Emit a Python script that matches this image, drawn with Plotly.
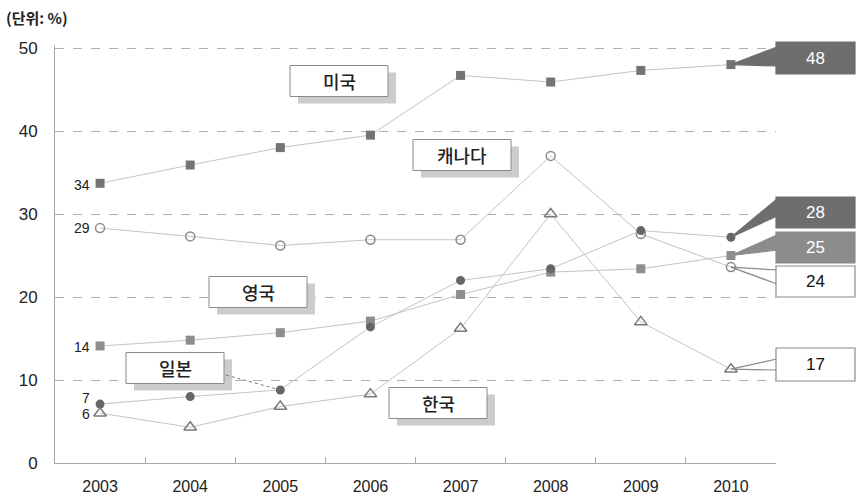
import plotly.graph_objects as go

# ---------------- data ----------------
years = ["2003", "2004", "2005", "2006", "2007", "2008", "2009", "2010"]
usa = [33.7, 35.9, 38.0, 39.5, 46.7, 45.9, 47.3, 48.0]
canada = [28.3, 27.3, 26.2, 26.9, 26.9, 37.0, 27.6, 23.6]
uk = [14.1, 14.8, 15.7, 17.1, 20.3, 23.0, 23.4, 25.0]
japan = [7.1, 8.0, 8.8, 16.4, 22.0, 23.4, 28.0, 27.2]
korea = [6.0, 4.3, 6.8, 8.3, 16.2, 30.0, 17.0, 11.3]

series_names = ["미국", "캐나다", "영국", "일본", "한국"]
start_labels = ["34", "29", "14", "7", "6"]
end_labels = ["48", "24", "25", "28", "17"]
y_ticks = [0, 10, 20, 30, 40, 50]
unit_label = "(단위: %)"

# ---------------- layout geometry ----------------
W, H = 856, 499
ML, MR, MT, MB = 55, 80, 45, 36
PW, PH = W - ML - MR, H - MT - MB
YMAX = PH / 8.3

def px(xp):
    return (xp - ML) / PW

def py(yp):
    return (H - MB - yp) / PH

def dx(i):
    return (i + 0.5) / len(years)

def dy(v):
    return v / YMAX

LINE = "#c4c4c4"
FONT = "Liberation Sans, Arial, sans-serif"
KFONT = "Noto Sans CJK KR, sans-serif"

fig = go.Figure()

styles = [
    (usa, dict(symbol="square", size=9, color="#747474")),
    (canada, dict(symbol="circle-open", size=9, color="#8a8a8a", line=dict(width=1.5))),
    (uk, dict(symbol="square", size=9, color="#8e8e8e")),
    (japan, dict(symbol="circle", size=9, color="#666666")),
    (korea, dict(symbol="triangle-up-open", size=11, color="#7a7a7a", line=dict(width=1.5))),
]
for (vals, mk), name in zip(styles, series_names):
    fig.add_trace(go.Scatter(x=years, y=vals, mode="lines+markers", name=name,
                             line=dict(color=LINE, width=1), marker=mk,
                             cliponaxis=False))

shapes = []
annotations = []

# unit label
annotations.append(dict(xref="paper", yref="paper", x=px(4), y=py(18), text=unit_label,
                        showarrow=False, xanchor="left", yanchor="middle",
                        font=dict(family=KFONT, size=15, color="#222", weight="bold")))

# start labels
start_series = [usa, canada, uk, japan, korea]
start_shift = [-2, 0, -1, 6, -1]
for lab, vals, ys in zip(start_labels, start_series, start_shift):
    annotations.append(dict(xref="paper", yref="paper", x=dx(0), y=dy(vals[0]), text=lab,
                            showarrow=False, xanchor="right", yanchor="middle",
                            xshift=-8, yshift=ys,
                            font=dict(family=FONT, size=14, color="#222")))

# end value callouts: (series, label, box top px, box bottom px, fill, text color, wedge top, wedge bottom)
callouts = [
    (usa, end_labels[0], 42, 74, "#6e6e6e", "white", 47, 66),
    (japan, end_labels[3], 197, 228, "#6e6e6e", "white", 199, 216),
    (uk, end_labels[2], 232, 263, "#8c8c8c", "white", 235, 250),
    (canada, end_labels[1], 266, 297, "white", "#111", 270, 284),
    (korea, end_labels[4], 348, 381, "white", "#111", 359, 370),
]
BX0, BX1 = 776, 855
last = len(years) - 1
for vals, lab, t, b, fill, tc, wt, wb in callouts:
    mx, my = dx(last), dy(vals[last])
    border = fill if fill != "white" else "#8a8a8a"
    shapes.append(dict(type="path", xref="paper", yref="paper",
                       path=f"M {mx},{my} L {px(BX0+1)},{py(wt)} L {px(BX0+1)},{py(wb)} Z",
                       fillcolor=fill, line=dict(color=border, width=1.2), layer="above"))
    shapes.append(dict(type="rect", xref="paper", yref="paper",
                       x0=px(BX0), x1=px(BX1), y0=py(b), y1=py(t),
                       fillcolor=fill, line=dict(color=border, width=1.2), layer="above"))
    annotations.append(dict(xref="paper", yref="paper", x=px((BX0 + BX1) / 2), y=py((t + b) / 2),
                            text=lab, showarrow=False, xanchor="center", yanchor="middle",
                            font=dict(family=FONT, size=17, color=tc)))

# country name boxes with shadows (center px)
name_boxes = [
    (series_names[0], 339, 81),
    (series_names[1], 462, 155),
    (series_names[2], 258, 292),
    (series_names[3], 175, 368),
    (series_names[4], 438, 403),
]
BW, BH = 98, 31
for txt, cx, cy in name_boxes:
    x0, x1 = cx - BW / 2, cx + BW / 2
    y0, y1 = cy - BH / 2, cy + BH / 2
    shapes.append(dict(type="rect", xref="paper", yref="paper",
                       x0=px(x0 + 8), x1=px(x1 + 8), y0=py(y1 + 7), y1=py(y0 + 7),
                       fillcolor="#cccccc", line=dict(width=0), layer="above"))
    shapes.append(dict(type="rect", xref="paper", yref="paper",
                       x0=px(x0), x1=px(x1), y0=py(y1), y1=py(y0),
                       fillcolor="white", line=dict(color="#8a8a8a", width=1), layer="above"))
    annotations.append(dict(xref="paper", yref="paper", x=px(cx), y=py(cy), text=txt,
                            showarrow=False, xanchor="center", yanchor="middle",
                            font=dict(family=KFONT, size=18, color="#222", weight=500)))

# dashed leader from 일본 box to Japan 2005 marker
shapes.append(dict(type="line", xref="paper", yref="paper",
                   x0=px(226), y0=py(375), x1=dx(2), y1=dy(japan[2]),
                   line=dict(color="#777", width=1, dash="dot"), layer="above"))

fig.update_layout(
    width=W, height=H,
    margin=dict(l=ML, r=MR, t=MT, b=MB, autoexpand=False),
    plot_bgcolor="white", paper_bgcolor="white",
    showlegend=False,
    font=dict(family=FONT, color="#222"),
    shapes=shapes, annotations=annotations,
    xaxis=dict(type="category", range=[-0.5, len(years) - 0.5], automargin=False,
               showline=True, linecolor="#a8a8a8", linewidth=1,
               ticks="inside", tickson="boundaries", ticklen=6, tickcolor="#a8a8a8",
               showgrid=False, tickfont=dict(size=16, color="#222"),
               ticklabelstandoff=9),
    yaxis=dict(range=[0, YMAX], tickvals=y_ticks, showgrid=True, gridcolor="#b0b0b0",
               automargin=False,
               griddash="dash", gridwidth=1, showline=True, linecolor="#a8a8a8",
               zeroline=False, ticks="", tickfont=dict(size=17, color="#222"),
               ticklabelstandoff=13),
)

fig.write_html("out.html")
